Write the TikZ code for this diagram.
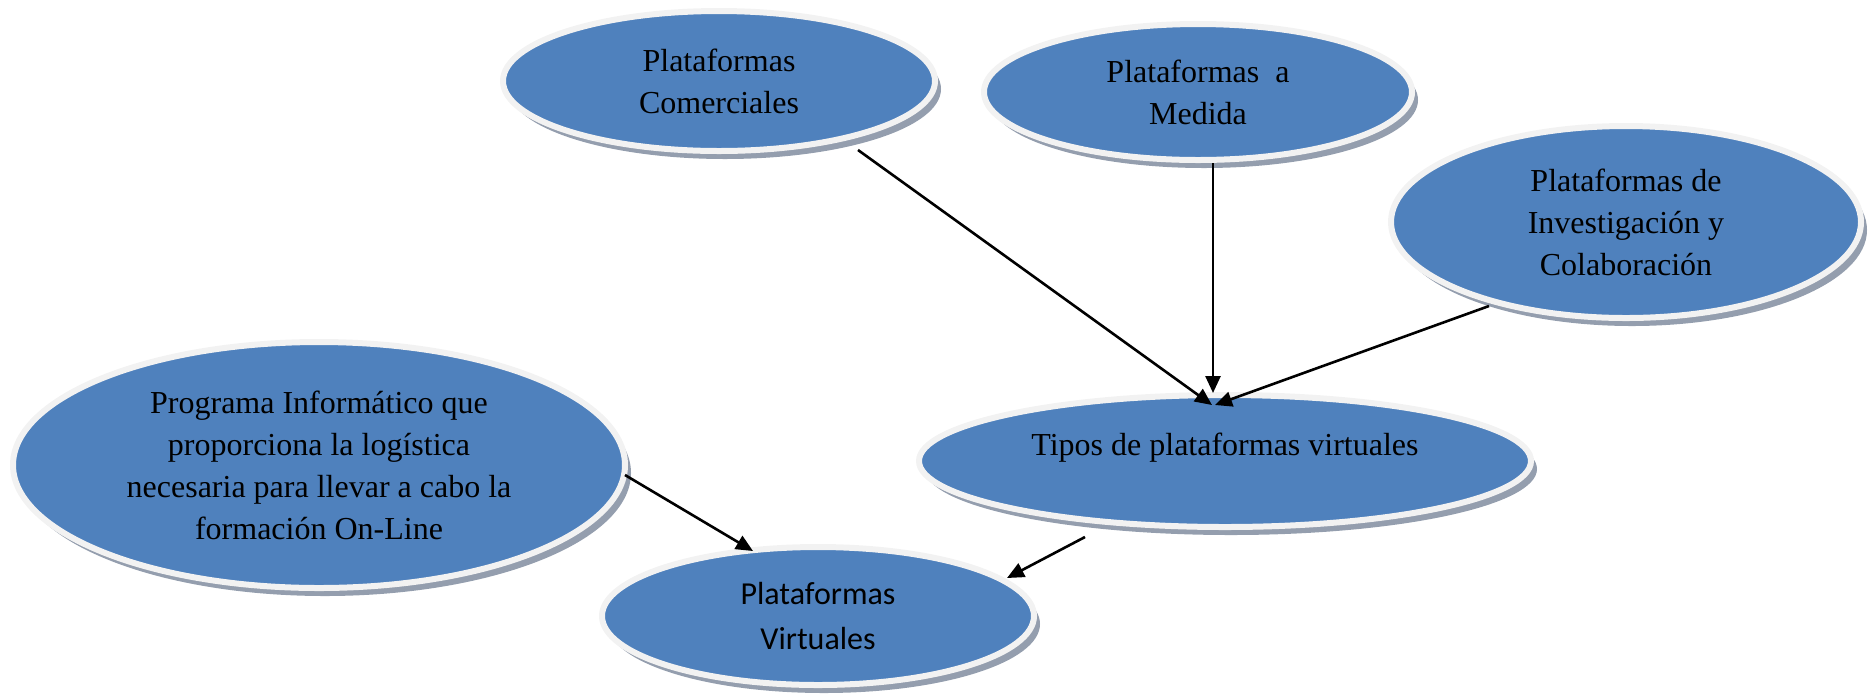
\documentclass[tikz,border=0pt]{standalone}
\usepackage{fontspec}
\setmainfont{Liberation Serif}
\newfontfamily\calibfont{Carlito}
\usetikzlibrary{shapes.geometric,shadows,arrows.meta,calc}
\definecolor{ellblue}{RGB}{79,129,189}
\definecolor{rimgray}{RGB}{242,242,242}
\definecolor{shadowc}{RGB}{148,158,174}
\begin{document}
\begin{tikzpicture}[x=0.5pt,y=-0.5pt,
  bubble/.style={ellipse, fill=ellblue, draw=rimgray, line width=3pt,
    inner sep=0pt, outer sep=0pt, align=center,
    font=\fontsize{16}{21}\selectfont,
    drop shadow={shadow xshift=3pt, shadow yshift=-4pt, fill=shadowc, opacity=1}},
  conn/.style={-{Triangle[length=8.5pt,width=7.5pt]}, line width=1.3pt, black}]
\useasboundingbox (0,0) rectangle (1868,698);

\node[bubble, minimum width=216pt, minimum height=70pt] (e1) at (719,81)
  {Plataformas\\Comerciales};
\node[bubble, minimum width=214pt, minimum height=68pt] (e2) at (1198,92)
  {Plataformas\ \ a\\Medida};
\node[bubble, minimum width=235pt, minimum height=96pt] (e3) at (1626,222)
  {Plataformas de\\Investigación y\\Colaboración};
\node[bubble, minimum width=306pt, minimum height=66pt, text height=5pt, text depth=11pt] (e4) at (1225,461)
  {Tipos de plataformas virtuales};
\node[bubble, minimum width=306pt, minimum height=123pt] (e5) at (319,465)
  {Programa Informático que\\proporciona la logística\\necesaria para llevar a cabo la\\formación On-Line};
\node[bubble, minimum width=216pt, minimum height=69pt, font=\calibfont\fontsize{16}{22.5}\selectfont] (e6) at (818,616)
  {Plataformas\\Virtuales};

\draw[conn] ($(e1.south)+(139,-1)$) -- ($(e4.north)+(-13,10)$);
\draw[conn] ($(e2.south)+(15,3)$) -- ($(e4.north)+(-12,-2)$);
\draw[conn] ($(e3.south)+(-137,-12)$) -- ($(e4.north)+(-10,10)$);
\draw[conn] ($(e5.east)+(0,10)$) -- ($(e6.north)+(-65,4)$);
\draw[conn] ($(e4.south)+(-140,10)$) -- ($(e6.north)+(189,31)$);
\end{tikzpicture}
\end{document}
